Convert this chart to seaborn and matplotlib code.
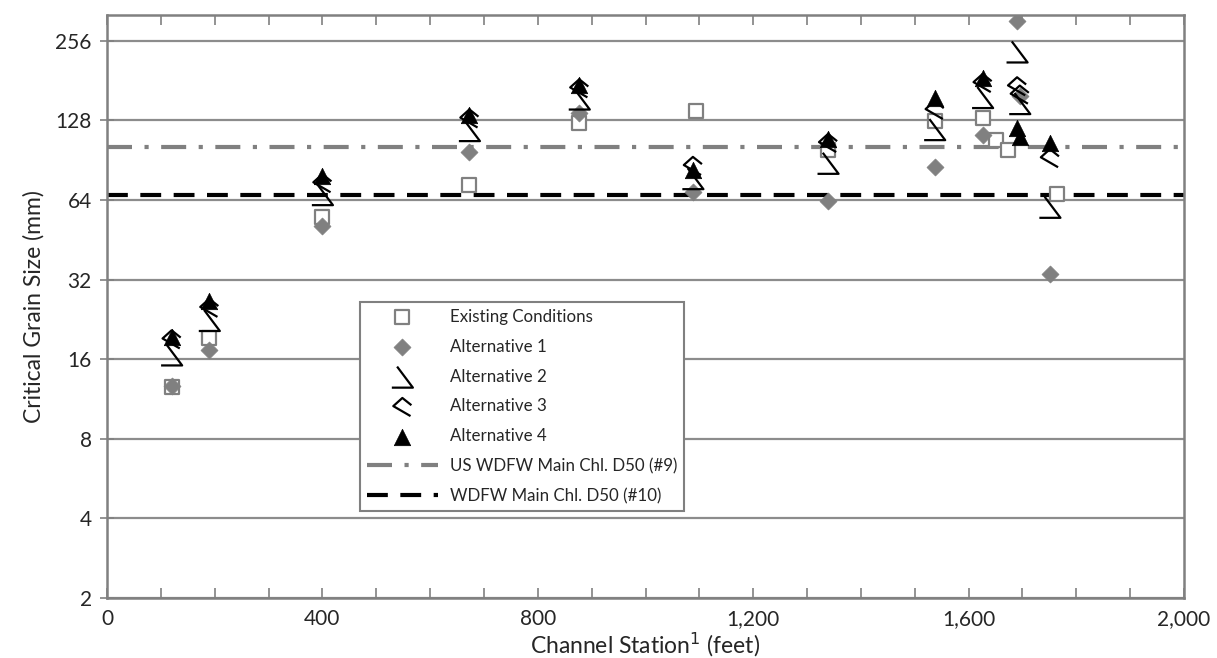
import matplotlib
matplotlib.use("Agg")
import matplotlib.pyplot as plt
import seaborn as sns
import numpy as np
from matplotlib.path import Path
from matplotlib.ticker import FixedLocator, MultipleLocator, FuncFormatter, NullLocator

# Data (station in feet, grain size in mm)
existing_x = [120, 190, 400, 673, 877, 1093, 1339, 1537, 1626, 1651, 1674, 1764]
existing_y = [12.5, 19.3, 55, 73, 124.5, 139, 99, 127, 130, 108, 99, 67.5]

alt1_x = [120, 190, 400, 673, 877, 1088, 1339, 1537, 1626, 1690, 1695, 1751]
alt1_y = [12.7, 17.3, 51, 97.5, 136, 68.5, 63.5, 85, 113, 305, 158, 33.7]

alt2_x = [120, 190, 400, 673, 877, 1088, 1339, 1537, 1626, 1690, 1695, 1751]
alt2_y = [16.6, 22.4, 67, 117, 154, 77, 88, 118, 156, 232, 148, 60]

alt3_x = [120, 190, 400, 673, 877, 1088, 1339, 1537, 1626, 1690, 1695, 1751]
alt3_y = [19, 25, 74, 130, 169, 86, 105, 140, 177, 172, 160, 92]

alt4_x = [120, 190, 400, 673, 877, 1088, 1339, 1537, 1626, 1690, 1695, 1751]
alt4_y = [19.4, 26.5, 79, 134, 174, 83, 109, 155, 185, 120, 111, 105]

us_wdfw_d50 = 101
wdfw_d50 = 67

y_ticks = [2, 4, 8, 16, 32, 64, 128, 256]
x_ticks = [0, 400, 800, 1200, 1600, 2000]

# custom line-art markers similar to the original
alt2_marker = Path([(-0.25, 0.5), (0.5, -0.5), (-0.5, -0.5)],
                   [Path.MOVETO, Path.LINETO, Path.LINETO])
alt3_marker = Path([(0.45, -0.5), (-0.5, 0.05), (0.0, 0.5), (0.5, 0.1)],
                   [Path.MOVETO, Path.LINETO, Path.LINETO, Path.LINETO])

sns.set_style("white")
plt.rcParams['font.family'] = ['Lato', 'DejaVu Sans']

fig = plt.figure(figsize=(12.17, 6.58), dpi=100)
ax = fig.add_axes([107 / 1217, 1 - 598 / 658, (1184 - 107) / 1217, (598 - 15) / 658])

grey = "#808080"
for v in y_ticks:
    ax.axhline(v, color="#8c8c8c", lw=1.6, zorder=0)

ax.axhline(us_wdfw_d50, color=grey, lw=3, dashes=(6, 3, 1, 3), zorder=1,
           label="US WDFW Main Chl. D50 (#9)")
ax.axhline(wdfw_d50, color="black", lw=3, dashes=(5, 3), zorder=1,
           label="WDFW Main Chl. D50 (#10)")

sns.scatterplot(x=existing_x, y=existing_y, ax=ax, marker="s", s=100,
                facecolor="white", edgecolor=grey, linewidth=1.6,
                label="Existing Conditions", zorder=3)
sns.scatterplot(x=alt1_x, y=alt1_y, ax=ax, marker="D", s=75,
                color=grey, edgecolor=grey, linewidth=0.5,
                label="Alternative 1", zorder=3)
sns.scatterplot(x=alt2_x, y=alt2_y, ax=ax, marker=alt2_marker, s=230,
                facecolor="none", edgecolor="black", linewidth=1.6,
                label="Alternative 2", zorder=3)
sns.scatterplot(x=alt3_x, y=alt3_y, ax=ax, marker=alt3_marker, s=170,
                facecolor="none", edgecolor="black", linewidth=1.6,
                label="Alternative 3", zorder=3)
sns.scatterplot(x=alt4_x, y=alt4_y, ax=ax, marker="^", s=140,
                color="black", edgecolor="black", linewidth=0.5,
                label="Alternative 4", zorder=4)

ax.set_yscale("log", base=2)
ax.set_ylim(2, 320)
ax.set_xlim(0, 2000)
ax.yaxis.set_major_locator(FixedLocator(y_ticks))
ax.yaxis.set_minor_locator(NullLocator())
ax.yaxis.set_major_formatter(FuncFormatter(lambda v, p: f"{int(v)}"))
ax.xaxis.set_major_locator(FixedLocator(x_ticks))
ax.xaxis.set_minor_locator(MultipleLocator(100))
ax.xaxis.set_major_formatter(FuncFormatter(lambda v, p: f"{int(v):,}"))

for sp in ax.spines.values():
    sp.set_color(grey)
    sp.set_linewidth(1.8)

ax.tick_params(axis="x", which="both", direction="in", top=True, bottom=True,
               color=grey, width=1.2, length=7, labelsize=15, pad=8)
ax.tick_params(axis="y", which="major", direction="inout", left=True, right=False,
               color=grey, width=1.2, length=10, labelsize=15, pad=6)

ax.set_ylabel("Critical Grain Size (mm)", fontsize=16.5, labelpad=8)
ax.set_xlabel("Channel Station$^1$ (feet)", fontsize=16.5, labelpad=1)

# legend order: points first, then lines
handles, labels = ax.get_legend_handles_labels()
order = ["Existing Conditions", "Alternative 1", "Alternative 2", "Alternative 3",
         "Alternative 4", "US WDFW Main Chl. D50 (#9)", "WDFW Main Chl. D50 (#10)"]
hmap = dict(zip(labels, handles))
leg = ax.legend([hmap[k] for k in order], order, loc="upper left",
                bbox_to_anchor=(360 / 1217, 1 - 302 / 658), bbox_transform=fig.transFigure,
                fontsize=12.2, frameon=True, fancybox=False, framealpha=1,
                edgecolor=grey, handlelength=4.2, labelspacing=0.82,
                borderpad=0.4, handletextpad=0.7, borderaxespad=0)
leg.get_frame().set_linewidth(1.5)

fig.savefig("out.png", dpi=100)
